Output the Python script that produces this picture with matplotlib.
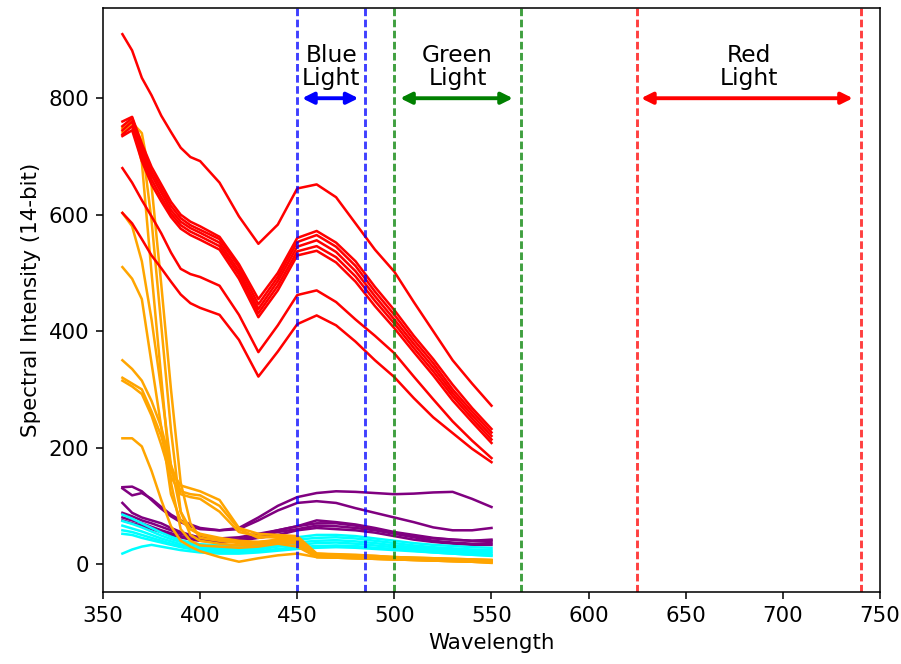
import matplotlib
matplotlib.use("Agg")
import matplotlib.pyplot as plt

# Sampled wavelengths (nm)
wavelength = [360, 365, 370, 375, 380, 385, 390, 395, 400, 410, 420, 430,
              440, 450, 460, 470, 480, 490, 500, 510, 520, 530, 540, 550]

# Spectral intensity curves, one list per sample
red_spectra = [
    [910, 882, 835, 805, 770, 742, 715, 699, 692, 655, 597, 550, 583, 645, 652, 630, 585, 540, 502, 450, 400, 350, 310, 272],
    [760, 768, 722, 682, 652, 622, 600, 588, 580, 562, 515, 455, 500, 560, 572, 552, 520, 476, 436, 392, 352, 308, 268, 232],
    [752, 766, 715, 675, 645, 615, 594, 582, 574, 558, 510, 446, 493, 553, 565, 545, 512, 468, 428, 385, 345, 300, 262, 226],
    [745, 760, 708, 668, 638, 608, 588, 577, 569, 552, 503, 438, 486, 545, 556, 536, 503, 460, 420, 378, 338, 294, 256, 220],
    [738, 752, 700, 660, 630, 602, 582, 571, 563, 546, 497, 431, 478, 537, 546, 527, 494, 452, 413, 371, 331, 288, 250, 214],
    [735, 745, 692, 652, 623, 596, 576, 565, 557, 540, 490, 424, 470, 530, 538, 518, 485, 443, 405, 364, 324, 281, 244, 208],
    [680, 655, 625, 597, 568, 535, 507, 498, 493, 478, 428, 364, 410, 462, 470, 450, 420, 392, 362, 322, 283, 245, 212, 182],
    [603, 585, 558, 530, 508, 485, 463, 448, 440, 428, 385, 322, 365, 412, 427, 410, 382, 350, 321, 285, 252, 225, 198, 175],
]

orange_spectra = [
    [750, 760, 690, 500, 320, 140, 60, 40, 32, 30, 28, 30, 35, 30, 12, 11, 10, 9, 8, 7, 6, 5, 4, 3],
    [748, 762, 725, 590, 410, 230, 90, 50, 40, 35, 32, 34, 38, 35, 15, 14, 13, 12, 10, 9, 8, 7, 6, 5],
    [742, 758, 740, 650, 480, 300, 140, 70, 45, 40, 36, 38, 42, 40, 18, 17, 16, 14, 12, 11, 10, 9, 8, 7],
    [603, 580, 520, 420, 300, 170, 90, 60, 50, 42, 38, 36, 40, 38, 14, 13, 12, 11, 10, 9, 8, 7, 6, 5],
    [510, 490, 455, 345, 235, 120, 75, 60, 52, 45, 40, 38, 40, 38, 12, 11, 10, 9, 8, 7, 6, 5, 4, 3],
    [350, 335, 315, 280, 235, 170, 125, 120, 118, 100, 60, 45, 48, 45, 16, 14, 13, 11, 10, 9, 8, 7, 6, 5],
    [320, 310, 300, 262, 220, 160, 135, 130, 125, 110, 62, 52, 50, 48, 18, 16, 15, 14, 12, 11, 10, 9, 8, 7],
    [315, 305, 292, 255, 205, 150, 120, 115, 112, 90, 55, 48, 45, 42, 15, 14, 13, 12, 11, 10, 9, 8, 7, 6],
    [216, 216, 202, 160, 110, 65, 40, 30, 22, 12, 4, 10, 15, 18, 12, 11, 10, 9, 8, 7, 6, 5, 4, 2],
]

purple_spectra = [
    [132, 133, 125, 110, 95, 82, 72, 65, 60, 58, 62, 80, 100, 115, 122, 125, 124, 122, 120, 121, 123, 124, 112, 98],
    [130, 118, 122, 112, 98, 85, 75, 68, 62, 58, 60, 75, 92, 105, 108, 105, 96, 88, 80, 72, 63, 58, 58, 62],
    [105, 88, 80, 75, 70, 62, 55, 50, 45, 40, 42, 50, 58, 65, 75, 72, 68, 62, 55, 50, 45, 42, 40, 40],
    [88, 82, 75, 70, 64, 58, 52, 48, 46, 44, 46, 52, 58, 65, 70, 70, 66, 60, 54, 48, 44, 42, 40, 42],
    [80, 75, 70, 64, 58, 53, 48, 44, 42, 40, 42, 48, 55, 60, 66, 65, 62, 58, 52, 46, 40, 37, 35, 36],
    [75, 70, 66, 60, 55, 50, 46, 42, 40, 38, 40, 45, 50, 58, 62, 60, 58, 54, 48, 42, 38, 35, 33, 33],
]

cyan_spectra = [
    [85, 78, 70, 62, 54, 47, 41, 37, 34, 32, 32, 36, 42, 46, 50, 50, 48, 44, 40, 36, 33, 31, 29, 28],
    [74, 69, 63, 56, 49, 43, 38, 34, 30, 28, 28, 32, 37, 42, 45, 46, 44, 40, 36, 32, 29, 27, 25, 24],
    [66, 61, 56, 50, 44, 39, 34, 30, 27, 25, 25, 28, 33, 37, 40, 41, 39, 36, 32, 29, 26, 24, 22, 21],
    [58, 55, 50, 45, 40, 35, 31, 28, 25, 22, 22, 25, 30, 33, 36, 37, 35, 32, 29, 26, 23, 21, 19, 18],
    [52, 50, 45, 41, 37, 33, 29, 26, 23, 20, 20, 22, 26, 29, 31, 32, 31, 28, 26, 23, 20, 18, 16, 15],
    [18, 25, 30, 33, 30, 27, 24, 22, 20, 18, 18, 20, 23, 26, 28, 29, 28, 26, 24, 22, 20, 18, 16, 14],
]

# Light bands: (label, lower edge, upper edge, colour)
bands = [
    ("Blue\nLight", 450, 485, "blue"),
    ("Green\nLight", 500, 565, "green"),
    ("Red\nLight", 625, 740, "red"),
]
arrow_spans = [(452.5, 481.5), (503, 561), (627, 736)]
arrow_level = 800
label_level = 853

plt.rcParams["font.size"] = 11

fig = plt.figure(figsize=(901 / 140, 664 / 140), dpi=140)
ax = fig.add_subplot(111)
fig.subplots_adjust(left=0.1143, right=0.9767, bottom=0.1084, top=0.988)

for spec in purple_spectra:
    ax.plot(wavelength, spec, color="purple", lw=1.3)
for spec in cyan_spectra:
    ax.plot(wavelength, spec, color="cyan", lw=1.3)
for spec in orange_spectra:
    ax.plot(wavelength, spec, color="orange", lw=1.3)
for spec in red_spectra:
    ax.plot(wavelength, spec, color="red", lw=1.3)

for (label, lo, hi, col), (a0, a1) in zip(bands, arrow_spans):
    ax.axvline(lo, color=col, ls=(0, (2.6, 1.2)), lw=1.5, alpha=0.75)
    ax.axvline(hi, color=col, ls=(0, (2.6, 1.2)), lw=1.5, alpha=0.75)
    ax.annotate("", xy=(a0, arrow_level), xytext=(a1, arrow_level),
                arrowprops=dict(arrowstyle="<|-|>", color=col, lw=2,
                                mutation_scale=12, shrinkA=0, shrinkB=0))
    ax.text((lo + hi) / 2, label_level, label, ha="center", va="center",
            fontsize=12, linespacing=1.0)

ax.set_xlim(350, 750)
ax.set_ylim(-48, 955)
ax.set_xticks(range(350, 751, 50))
ax.set_yticks(range(0, 801, 200))
ax.set_xlabel("Wavelength")
ax.set_ylabel("Spectral Intensity (14-bit)")

fig.savefig("out.png", dpi=140)
